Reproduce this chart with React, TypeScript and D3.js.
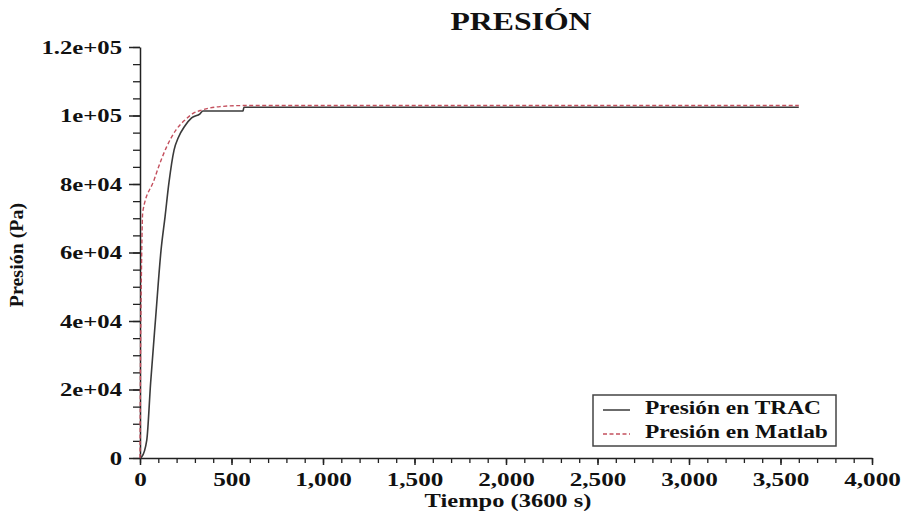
import React, { useEffect, useRef } from 'react';
import * as d3 from 'd3';

// Tiempo (s) / presión (Pa)
const tracTime = [0, 9, 37, 58, 86, 115, 137, 158, 186, 209, 246, 282, 328, 344, 563, 568, 3600];
const tracPressure = [0, 300, 5250, 21900, 41300, 60700, 70500, 80300, 89900, 93500, 97000, 99300, 100500, 101300, 101300, 102400, 102400];

const matlabTime = [0, 3, 8, 15, 77, 109, 146, 197, 246, 290, 337, 437, 563, 3600];
const matlabPressure = [0, 30000, 55000, 71900, 81200, 86100, 90900, 95800, 98700, 100600, 101600, 102600, 102900, 102900];

const xTicks = [0, 500, 1000, 1500, 2000, 2500, 3000, 3500, 4000];
const yTicks = [0, 20000, 40000, 60000, 80000, 100000, 120000];
const yTickLabels = ['0', '2e+04', '4e+04', '6e+04', '8e+04', '1e+05', '1.2e+05'];

const seriesNames = ['Presión en TRAC', 'Presión en Matlab'];

const FONT = '"Liberation Serif", "Times New Roman", serif';

export default function App() {
  const svgRef = useRef<SVGSVGElement>(null);

  useEffect(() => {
    if (!svgRef.current) return;
    const width = 903;
    const height = 512;
    const margin = { top: 47, right: 31, bottom: 54, left: 140 };
    const innerW = width - margin.left - margin.right;
    const innerH = height - margin.top - margin.bottom;

    const root = d3.select(svgRef.current);
    root.selectAll('*').remove();

    const svg = root.append('g').attr('transform', `translate(${margin.left},${margin.top})`);

    const x = d3.scaleLinear().domain([0, 4000]).range([0, innerW]);
    const y = d3.scaleLinear().domain([0, 120000]).range([innerH, 0]);

    const axisColor = '#222';

    // widen glyphs like the original rendering
    const stretch = (sel: d3.Selection<any, any, any, any>, k: number) => {
      sel.each(function () {
        const t = this as SVGTextElement;
        const len = t.getComputedTextLength();
        d3.select(t).attr('textLength', len * k).attr('lengthAdjust', 'spacingAndGlyphs');
      });
    };

    // minor ticks
    svg.append('g')
      .attr('transform', `translate(0,${innerH})`)
      .call(d3.axisBottom(x).tickValues(d3.range(0, 4001, 100)).tickSize(5).tickFormat(() => ''))
      .call(g => g.select('.domain').remove())
      .selectAll('line').attr('stroke', axisColor).attr('stroke-width', 1.3);

    svg.append('g')
      .call(d3.axisLeft(y).tickValues(d3.range(0, 120001, 5000)).tickSize(7).tickFormat(() => ''))
      .call(g => g.select('.domain').remove())
      .selectAll('line').attr('stroke', axisColor).attr('stroke-width', 1.3);

    // major axes
    const xAxis = svg.append('g')
      .attr('transform', `translate(0,${innerH})`)
      .call(d3.axisBottom(x).tickValues(xTicks).tickSize(7).tickSizeOuter(0).tickPadding(8).tickFormat(d3.format(',') as any));
    xAxis.select('.domain').attr('stroke', axisColor).attr('stroke-width', 1.5);
    xAxis.selectAll('line').attr('stroke', axisColor).attr('stroke-width', 1.5);
    const xt = xAxis.selectAll<SVGTextElement, number>('text')
      .attr('font-family', FONT).attr('font-weight', 'bold').attr('font-size', 18.5).attr('fill', '#111');
    stretch(xt, 1.36);

    const yAxis = svg.append('g')
      .call(d3.axisLeft(y).tickValues(yTicks).tickSize(11).tickSizeOuter(0).tickPadding(7)
        .tickFormat((d, i) => yTickLabels[i]));
    yAxis.select('.domain').attr('stroke', axisColor).attr('stroke-width', 1.5);
    yAxis.selectAll('line').attr('stroke', axisColor).attr('stroke-width', 1.5);
    const yt = yAxis.selectAll<SVGTextElement, number>('text')
      .attr('font-family', FONT).attr('font-weight', 'bold').attr('font-size', 19).attr('fill', '#111');
    stretch(yt, 1.3);

    // curves
    const line = d3.line<[number, number]>().x(d => x(d[0])).y(d => y(d[1])).curve(d3.curveMonotoneX);
    const trac = tracTime.map((t, i) => [t, tracPressure[i]] as [number, number]);
    const matlab = matlabTime.map((t, i) => [t, matlabPressure[i]] as [number, number]);

    svg.append('path').datum(trac)
      .attr('d', line).attr('fill', 'none').attr('stroke', '#3a3a3a').attr('stroke-width', 1.6);
    svg.append('path').datum(matlab)
      .attr('d', line).attr('fill', 'none').attr('stroke', '#c4505e').attr('stroke-width', 1.4)
      .attr('stroke-dasharray', '4,2.5');

    // title & labels
    const title = root.append('text')
      .attr('x', 521).attr('y', 30).attr('text-anchor', 'middle')
      .attr('font-family', FONT).attr('font-weight', 'bold').attr('font-size', 26).attr('fill', '#111')
      .text('PRESIÓN');
    stretch(title, 1.22);

    const xl = root.append('text')
      .attr('x', margin.left + innerW / 2 + 2).attr('y', 507).attr('text-anchor', 'middle')
      .attr('font-family', FONT).attr('font-weight', 'bold').attr('font-size', 18).attr('fill', '#111')
      .text('Tiempo (3600 s)');
    stretch(xl, 1.36);

    const yl = root.append('text')
      .attr('transform', `translate(23,255) rotate(-90)`).attr('text-anchor', 'middle')
      .attr('font-family', FONT).attr('font-weight', 'bold').attr('font-size', 19).attr('fill', '#111')
      .text('Presión (Pa)');
    stretch(yl, 1.05);

    // legend
    const legend = root.append('g').attr('transform', 'translate(593,395)');
    legend.append('rect').attr('width', 243).attr('height', 51)
      .attr('fill', '#fff').attr('stroke', '#444').attr('stroke-width', 1.5);
    const styles = [
      { stroke: '#3a3a3a', dash: null as string | null },
      { stroke: '#c4505e', dash: '4,2.5' },
    ];
    seriesNames.forEach((name, i) => {
      const g = legend.append('g').attr('transform', `translate(0,${15 + i * 24})`);
      g.append('line').attr('x1', 10).attr('x2', 37).attr('y1', 0).attr('y2', 0)
        .attr('stroke', styles[i].stroke).attr('stroke-width', 1.5)
        .attr('stroke-dasharray', styles[i].dash);
      const t = g.append('text').attr('x', 52).attr('y', 4)
        .attr('font-family', FONT).attr('font-weight', 'bold').attr('font-size', 18).attr('fill', '#111')
        .text(name);
      stretch(t, 1.3);
    });
  }, []);

  return (
    <svg ref={svgRef} width={903} height={512}
      style={{ position: 'absolute', left: 0, top: 0, background: '#fff' }} />
  );
}
